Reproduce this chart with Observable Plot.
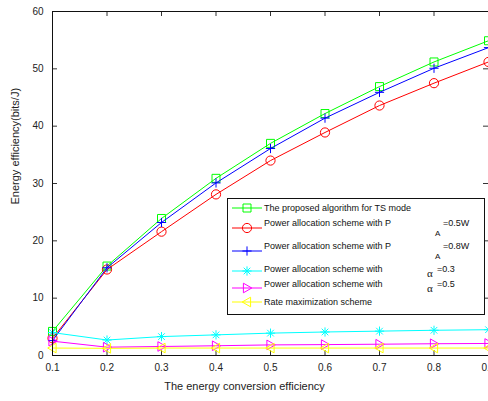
<!DOCTYPE html>
<html><head><meta charset="utf-8">
<script src="https://cdn.jsdelivr.net/npm/d3@7"></script>
<script src="https://cdn.jsdelivr.net/npm/@observablehq/plot@0.6"></script>
<style>
body{margin:0;background:#fff;overflow:hidden;}
#chart{position:relative;width:488px;height:401px;overflow:hidden;}
</style>
</head><body><div id="chart"></div>
<script>
// ---- data ----
const efficiency = [0.1, 0.2, 0.3, 0.4, 0.5, 0.6, 0.7, 0.8, 0.9];
const tsMode   = [4.2, 15.6, 23.9, 30.9, 37.0, 42.2, 46.9, 51.2, 54.9];
const paW05    = [3.0, 15.0, 21.6, 28.1, 34.0, 38.9, 43.6, 47.5, 51.2];
const paW08    = [2.6, 15.3, 23.2, 30.1, 36.1, 41.4, 45.9, 50.1, 53.7];
const alpha03  = [4.0, 2.7, 3.3, 3.6, 3.9, 4.1, 4.25, 4.4, 4.5];
const alpha05  = [2.5, 1.45, 1.57, 1.7, 1.85, 1.9, 1.97, 2.05, 2.1];
const rateMax  = [1.3, 1.25, 1.3, 1.3, 1.3, 1.3, 1.3, 1.3, 1.3];
const xTicks = [0.1, 0.2, 0.3, 0.4, 0.5, 0.6, 0.7, 0.8, 0.9];
const yTicks = [0, 10, 20, 30, 40, 50, 60];
const xTitle = "The energy conversion efficiency";
const yTitle = "Energy efficiency(bits/J)";

// ---- symbols (MATLAB-like markers) ----
const R = s => Math.sqrt(s / Math.PI);
const symbols = {
  square: {draw(c, s) { const r = R(s); c.moveTo(-r, -r); c.lineTo(r, -r); c.lineTo(r, r); c.lineTo(-r, r); c.closePath(); }},
  circle: {draw(c, s) { const r = R(s); c.moveTo(r, 0); c.arc(0, 0, r, 0, 2 * Math.PI); }},
  plus: {draw(c, s) { const r = R(s); c.moveTo(-r, 0); c.lineTo(r, 0); c.moveTo(0, -r); c.lineTo(0, r); }},
  asterisk: {draw(c, s) { const r = R(s), q = r * 0.72; c.moveTo(-r, 0); c.lineTo(r, 0); c.moveTo(0, -r); c.lineTo(0, r); c.moveTo(-q, -q); c.lineTo(q, q); c.moveTo(-q, q); c.lineTo(q, -q); }},
  triRight: {draw(c, s) { const r = R(s); c.moveTo(-r * 0.75, -r); c.lineTo(r, 0); c.lineTo(-r * 0.75, r); c.closePath(); }},
  triLeft: {draw(c, s) { const r = R(s); c.moveTo(r * 0.75, -r); c.lineTo(-r, 0); c.lineTo(r * 0.75, r); c.closePath(); }}
};

const series = [
  {name: "The proposed algorithm for TS mode", values: tsMode, color: "#00ff00", symbol: symbols.square, r: 4},
  {name: "Power allocation scheme with P", sub: "A", tail: "=0.5W", values: paW05, color: "#ff0000", symbol: symbols.circle, r: 4.6},
  {name: "Power allocation scheme with P", sub: "A", tail: "=0.8W", values: paW08, color: "#0000ff", symbol: symbols.plus, r: 4.6},
  {name: "Power allocation scheme with", greek: "α", tail: "=0.3", values: alpha03, color: "#00ffff", symbol: symbols.asterisk, r: 4.6},
  {name: "Power allocation scheme with", greek: "α", tail: "=0.5", values: alpha05, color: "#ff00ff", symbol: symbols.triRight, r: 4.8},
  {name: "Rate maximization scheme", values: rateMax, color: "#ffff00", symbol: symbols.triLeft, r: 4.8}
];

const seriesMarks = series.flatMap(s => {
  const rows = efficiency.map((x, i) => ({x, y: s.values[i]}));
  return [
    Plot.line(rows, {x: "x", y: "y", stroke: s.color, strokeWidth: 1}),
    Plot.dot(rows, {x: "x", y: "y", stroke: s.color, fill: "none", symbol: s.symbol, r: s.r, strokeWidth: 1})
  ];
});

const plot = Plot.plot({
  width: 488, height: 401,
  marginLeft: 52, marginRight: 0, marginTop: 11, marginBottom: 46,
  style: {fontFamily: "'Liberation Sans', Arial, sans-serif", fontSize: "10px", background: "white", overflow: "hidden", color: "#222"},
  x: {domain: [0.1, 0.9]},
  y: {domain: [0, 60]},
  marks: [
    Plot.axisX({ticks: xTicks, tickSize: 0, tickPadding: 8, tickFormat: d3.format(".1f"), label: null, fontSize: 10}),
    Plot.axisY({ticks: yTicks, tickSize: 0, tickPadding: 9, label: null, fontSize: 10}),
    Plot.tickX(xTicks, {x: d => d, insetTop: 339, stroke: "#333"}),
    Plot.tickX(xTicks, {x: d => d, insetBottom: 339, stroke: "#333"}),
    Plot.tickY(yTicks, {y: d => d, insetRight: 431, stroke: "#333"}),
    Plot.tickY(yTicks, {y: d => d, insetLeft: 431, stroke: "#333"}),
    ...seriesMarks,
    Plot.frame({stroke: "#111"}),
    Plot.text([xTitle], {text: d => d, frameAnchor: "bottom", dx: -26, dy: 34, fontSize: 11, fill: "#222"}),
    Plot.text([yTitle], {text: d => d, frameAnchor: "left", rotate: -90, dx: -37, dy: 21, fontSize: 11, fill: "#222"})
  ]
});

// ---- in-plot legend ----
const svg = d3.select(plot);
const lg = svg.append("g")
  .attr("font-family", "'Liberation Sans', Arial, sans-serif")
  .attr("font-size", 9).attr("fill", "#111").attr("text-anchor", "start");
lg.append("rect").attr("x", 227.5).attr("y", 198.5).attr("width", 257).attr("height", 116).attr("fill", "white").attr("stroke", "#111");
const rowLine = [208, 228, 251, 271, 288, 302];
const rowText = [208, 223, 246, 269, 284, 302];
series.forEach((s, i) => {
  const ly = rowLine[i], ty = rowText[i];
  lg.append("line").attr("x1", 232).attr("x2", 262).attr("y1", ly).attr("y2", ly).attr("stroke", s.color);
  lg.append("path").attr("transform", `translate(247,${ly})`)
    .attr("d", d3.symbol().type(s.symbol).size(s.r * s.r * Math.PI)())
    .attr("fill", "none").attr("stroke", s.color);
  lg.append("text").attr("x", 264).attr("y", ty).attr("dy", "0.35em").text(s.name);
  if (s.sub) {
    lg.append("text").attr("x", 435).attr("y", ty + 10).attr("dy", "0.35em").attr("font-size", 8).text(s.sub);
    lg.append("text").attr("x", 443).attr("y", ty).attr("dy", "0.35em").text(s.tail);
  }
  if (s.greek) {
    lg.append("text").attr("x", 427).attr("y", ty + 4).attr("dy", "0.35em").attr("font-family", "'Liberation Serif', serif").attr("font-size", 11).text(s.greek);
    lg.append("text").attr("x", 437).attr("y", ty).attr("dy", "0.35em").text(s.tail);
  }
});

document.getElementById("chart").appendChild(plot);
</script>
</body></html>
